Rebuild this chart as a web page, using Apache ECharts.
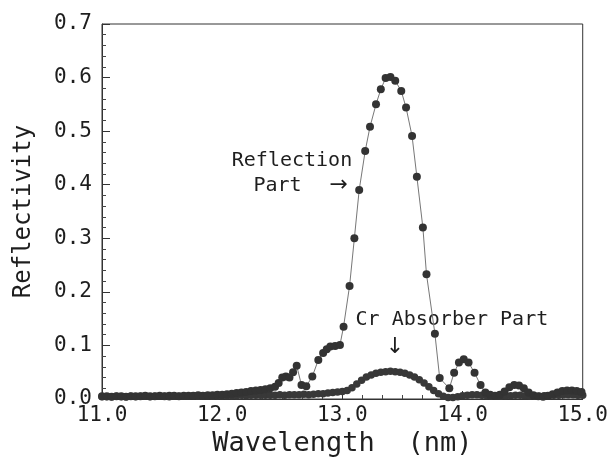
<!DOCTYPE html>
<html><head><meta charset="utf-8">
<script src="https://cdn.jsdelivr.net/npm/echarts@6/dist/echarts.min.js"></script>
<style>html,body{margin:0;padding:0;background:#fff}#c{width:611px;height:465px}</style>
</head><body><div id="c"></div>
<script>
// Reflection part (measured points, joined by a thin line)
const refWavelength = [11.00,11.04,11.08,11.12,11.16,11.20,11.24,11.28,11.32,11.36,11.40,11.44,11.48,11.52,11.56,11.60,11.64,11.68,11.72,11.76,11.80,11.84,11.88,11.92,11.96,12.00,12.04,12.08,12.12,12.16,12.20,12.24,12.28,12.32,12.36,12.40,12.44,12.47,12.50,12.53,12.56,12.59,12.62,12.66,12.70,12.75,12.80,12.84,12.87,12.90,12.94,12.98,13.01,13.06,13.10,13.14,13.19,13.23,13.28,13.32,13.36,13.40,13.44,13.49,13.53,13.58,13.62,13.67,13.70,13.77,13.81,13.89,13.93,13.97,14.01,14.05,14.10,14.15,14.19,14.23,14.27,14.31,14.35,14.39,14.43,14.47,14.51,14.55,14.59,14.63,14.67,14.71,14.75,14.79,14.83,14.87,14.91,14.95,14.99];
const refReflectivity = [0.005,0.005,0.004,0.005,0.005,0.004,0.005,0.005,0.005,0.006,0.005,0.005,0.006,0.005,0.006,0.006,0.005,0.006,0.006,0.006,0.007,0.006,0.007,0.007,0.008,0.008,0.009,0.010,0.011,0.012,0.013,0.015,0.016,0.017,0.018,0.020,0.023,0.030,0.040,0.042,0.040,0.050,0.062,0.026,0.024,0.042,0.073,0.086,0.093,0.098,0.099,0.101,0.135,0.211,0.300,0.390,0.463,0.508,0.550,0.578,0.599,0.601,0.594,0.575,0.544,0.491,0.415,0.320,0.233,0.122,0.039,0.020,0.049,0.068,0.074,0.068,0.049,0.026,0.012,0.008,0.006,0.008,0.014,0.022,0.026,0.025,0.020,0.012,0.007,0.005,0.004,0.006,0.009,0.012,0.015,0.016,0.016,0.015,0.013];
// Cr absorber part
const crWavelength = [11.00,11.04,11.08,11.12,11.16,11.20,11.24,11.28,11.32,11.36,11.40,11.44,11.48,11.52,11.56,11.60,11.64,11.68,11.72,11.76,11.80,11.84,11.88,11.92,11.96,12.00,12.04,12.08,12.12,12.16,12.20,12.24,12.28,12.32,12.36,12.40,12.44,12.48,12.52,12.56,12.60,12.64,12.68,12.72,12.76,12.80,12.84,12.88,12.92,12.96,13.00,13.04,13.08,13.12,13.16,13.20,13.24,13.28,13.32,13.36,13.40,13.44,13.48,13.52,13.56,13.60,13.64,13.68,13.72,13.76,13.80,13.84,13.88,13.92,13.96,14.00,14.04,14.08,14.12,14.16,14.20,14.24,14.28,14.32,14.36,14.40,14.44,14.48,14.52,14.56,14.60,14.64,14.68,14.72,14.76,14.80,14.84,14.88,14.92,14.96,15.00];
const crReflectivity = [0.004,0.004,0.004,0.005,0.004,0.004,0.005,0.004,0.005,0.005,0.004,0.005,0.005,0.005,0.004,0.005,0.005,0.005,0.005,0.006,0.005,0.005,0.006,0.005,0.006,
0.006,0.006,0.006,0.006,0.007,0.006,0.007,0.007,0.007,0.007,0.007,0.007,0.008,0.007,0.008,0.008,0.008,0.009,0.008,0.009,0.010,0.010,0.011,0.012,0.013,
0.014,0.016,0.021,0.028,0.035,0.041,0.045,0.048,0.050,0.051,0.052,0.051,0.050,0.048,0.045,0.041,0.036,0.030,0.023,0.016,0.010,0.005,0.003,0.003,0.004,
0.006,0.007,0.008,0.008,0.007,0.006,0.005,0.005,0.005,0.006,0.006,0.007,0.007,0.006,0.005,0.005,0.005,0.006,0.006,0.007,0.007,0.008,0.008,0.008,0.007,0.007];

const xMin = 11.0, xMax = 15.0, xStep = 1.0;
const yMin = 0.0, yMax = 0.7, yStep = 0.1;
const xTitle = 'Wavelength  (nm)';
const yTitle = 'Reflectivity';

const FONT = 'DejaVu Sans Mono';
const INK = '#1e1e1e';

const chart = echarts.init(document.getElementById('c'), null, {renderer: 'canvas'});

const pairs = (xs, ys) => xs.map((x, i) => [x, ys[i]]);

chart.setOption({
  animation: false,
  backgroundColor: '#fff',
  grid: {left: 102, right: 25, top: 24, bottom: 66, show: true, borderColor: '#333', borderWidth: 1},
  xAxis: {
    type: 'value', min: xMin, max: xMax, interval: xStep,
    name: xTitle, nameLocation: 'middle', nameGap: 28,
    nameTextStyle: {fontFamily: FONT, fontSize: 27, color: INK},
    axisLine: {show: true, onZero: false, lineStyle: {color: '#333', width: 1}},
    axisTick: {show: true, inside: true, length: 8, lineStyle: {color: '#333'}},
    minorTick: {show: true, splitNumber: 6, length: 4, lineStyle: {color: '#444'}},
    axisLabel: {fontFamily: FONT, fontSize: 21, color: INK, margin: 6, formatter: v => v.toFixed(1)},
    splitLine: {show: false}
  },
  yAxis: {
    type: 'value', min: yMin, max: yMax, interval: yStep,
    name: yTitle, nameLocation: 'middle', nameGap: 66, nameRotate: 90,
    nameTextStyle: {fontFamily: FONT, fontSize: 24, color: INK},
    axisLine: {show: true, lineStyle: {color: '#333', width: 1}},
    axisTick: {show: true, inside: true, length: 8, lineStyle: {color: '#333'}},
    minorTick: {show: true, splitNumber: 5, length: 4, lineStyle: {color: '#444'}},
    axisLabel: {fontFamily: FONT, fontSize: 21, color: INK, margin: 10, formatter: v => v.toFixed(1)},
    splitLine: {show: false}
  },
  series: [
    {
      name: 'Cr Absorber Part', type: 'line', data: pairs(crWavelength, crReflectivity),
      symbol: 'circle', symbolSize: 7.5, showSymbol: true,
      itemStyle: {color: '#383838'}, lineStyle: {color: '#555', width: 1}, z: 2
    },
    {
      name: 'Reflection Part', type: 'line', data: pairs(refWavelength, refReflectivity),
      symbol: 'circle', symbolSize: 8, showSymbol: true,
      itemStyle: {color: '#333'}, lineStyle: {color: '#777', width: 1}, z: 3
    }
  ]
});

function annotate() {
  const p = (x, y) => chart.convertToPixel({gridIndex: 0}, [x, y]);
  const reflA = p(12.08, 0.44);
  const reflB = p(12.26, 0.395);
  const crA = p(13.11, 0.144);
  const crArrow = p(13.42, 0.098);
  chart.setOption({graphic: [
    {type: 'text', left: reflA[0], top: reflA[1] - 12, style: {text: 'Reflection', font: '20px "DejaVu Sans Mono"', fill: INK}},
    {type: 'text', left: reflB[0], top: reflB[1] - 12, style: {text: 'Part', font: '20px "DejaVu Sans Mono"', fill: INK}},
    {type: 'text', left: reflB[0] + 76, top: reflB[1] - 13, style: {text: '→', font: '22px "DejaVu Sans"', fill: INK}},
    {type: 'text', left: crA[0], top: crA[1] - 12, style: {text: 'Cr Absorber Part', font: '20px "DejaVu Sans Mono"', fill: INK}},
    {type: 'text', left: crArrow[0] - 7, top: crArrow[1] - 10, style: {text: '↓', font: '22px "DejaVu Sans"', fill: INK}}
  ]});
}
annotate();
</script>
</body></html>
